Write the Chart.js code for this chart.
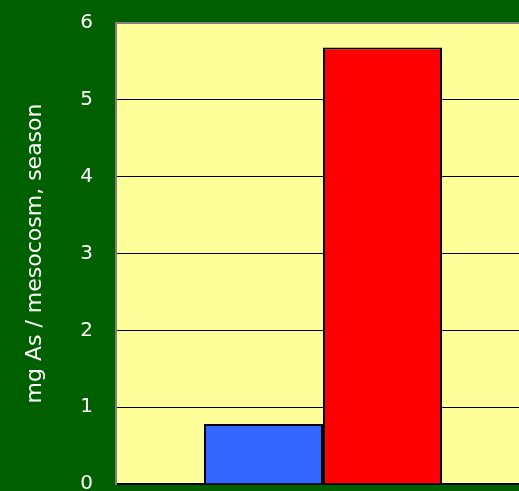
<!DOCTYPE html>
<html>
<head>
<meta charset="utf-8">
<script src="https://cdn.jsdelivr.net/npm/chart.js@4"></script>
<style>
  html, body { margin: 0; padding: 0; background: #006000; overflow: hidden; }
  .wrap { width: 530px; height: 531px; margin-top: -12px; }
</style>
</head>
<body>
<div class="wrap"><canvas id="myBarChart"></canvas></div>
<script>
const categories = [''];
const seriesBlue = [0.78];
const seriesRed = [5.68];
const yTicks = [0, 1, 2, 3, 4, 5, 6];

// plot area background + top border
const plotBg = {
    id: 'plotBg',
    beforeDraw(chart) {
        const { ctx, chartArea: a } = chart;
        ctx.save();
        ctx.fillStyle = '#FFFF99';
        ctx.fillRect(a.left, a.top, a.right - a.left, a.bottom - a.top);
        ctx.restore();
    },
    afterDraw(chart) {
        const { ctx, chartArea: a } = chart;
        ctx.save();
        ctx.strokeStyle = '#808080';
        ctx.lineWidth = 2;
        ctx.beginPath();
        ctx.moveTo(a.left, a.top);
        ctx.lineTo(a.right, a.top);
        ctx.stroke();
        ctx.restore();
    }
};

const ctxBar = document.getElementById('myBarChart').getContext('2d');
new Chart(ctxBar, {
    type: 'bar',
    data: {
        labels: categories,
        datasets: [{
            label: 'blue',
            data: seriesBlue,
            backgroundColor: '#3366FF',
            borderColor: '#000000',
            borderWidth: 2
        }, {
            label: 'red',
            data: seriesRed,
            backgroundColor: '#FF0000',
            borderColor: '#000000',
            borderWidth: 2
        }]
    },
    options: {
        responsive: true,
        maintainAspectRatio: false,
        animation: false,
        layout: { padding: { top: 10, bottom: 6, right: 0, left: 0 } },
        datasets: {
            bar: { barPercentage: 1, categoryPercentage: 0.575 }
        },
        plugins: {
            legend: { display: false },
            tooltip: { enabled: false }
        },
        scales: {
            x: {
                grid: { display: false, drawTicks: false },
                ticks: { display: false },
                border: { color: '#000000', width: 2 },
                afterFit: s => { s.height = 0; }
            },
            y: {
                min: 0,
                max: 6,
                afterFit: s => { s.width = 116; },
                afterBuildTicks: s => { s.ticks = yTicks.map(v => ({ value: v })); },
                grid: {
                    drawTicks: false,
                    color: c => (c.tick.value === 6 || c.tick.value === 0) ? 'rgba(0,0,0,0)' : '#000000',
                    lineWidth: 1
                },
                border: { color: '#808080', width: 2 },
                ticks: {
                    color: '#FFFFFF',
                    padding: 23,
                    font: { family: 'DejaVu Sans', size: 20 }
                },
                title: {
                    display: true,
                    text: 'mg As / mesocosm, season',
                    color: '#FFFFFF',
                    font: { family: 'DejaVu Sans', size: 22 },
                    padding: { top: 22, bottom: 0 }
                }
            }
        }
    },
    plugins: [plotBg]
});
</script>
</body>
</html>
